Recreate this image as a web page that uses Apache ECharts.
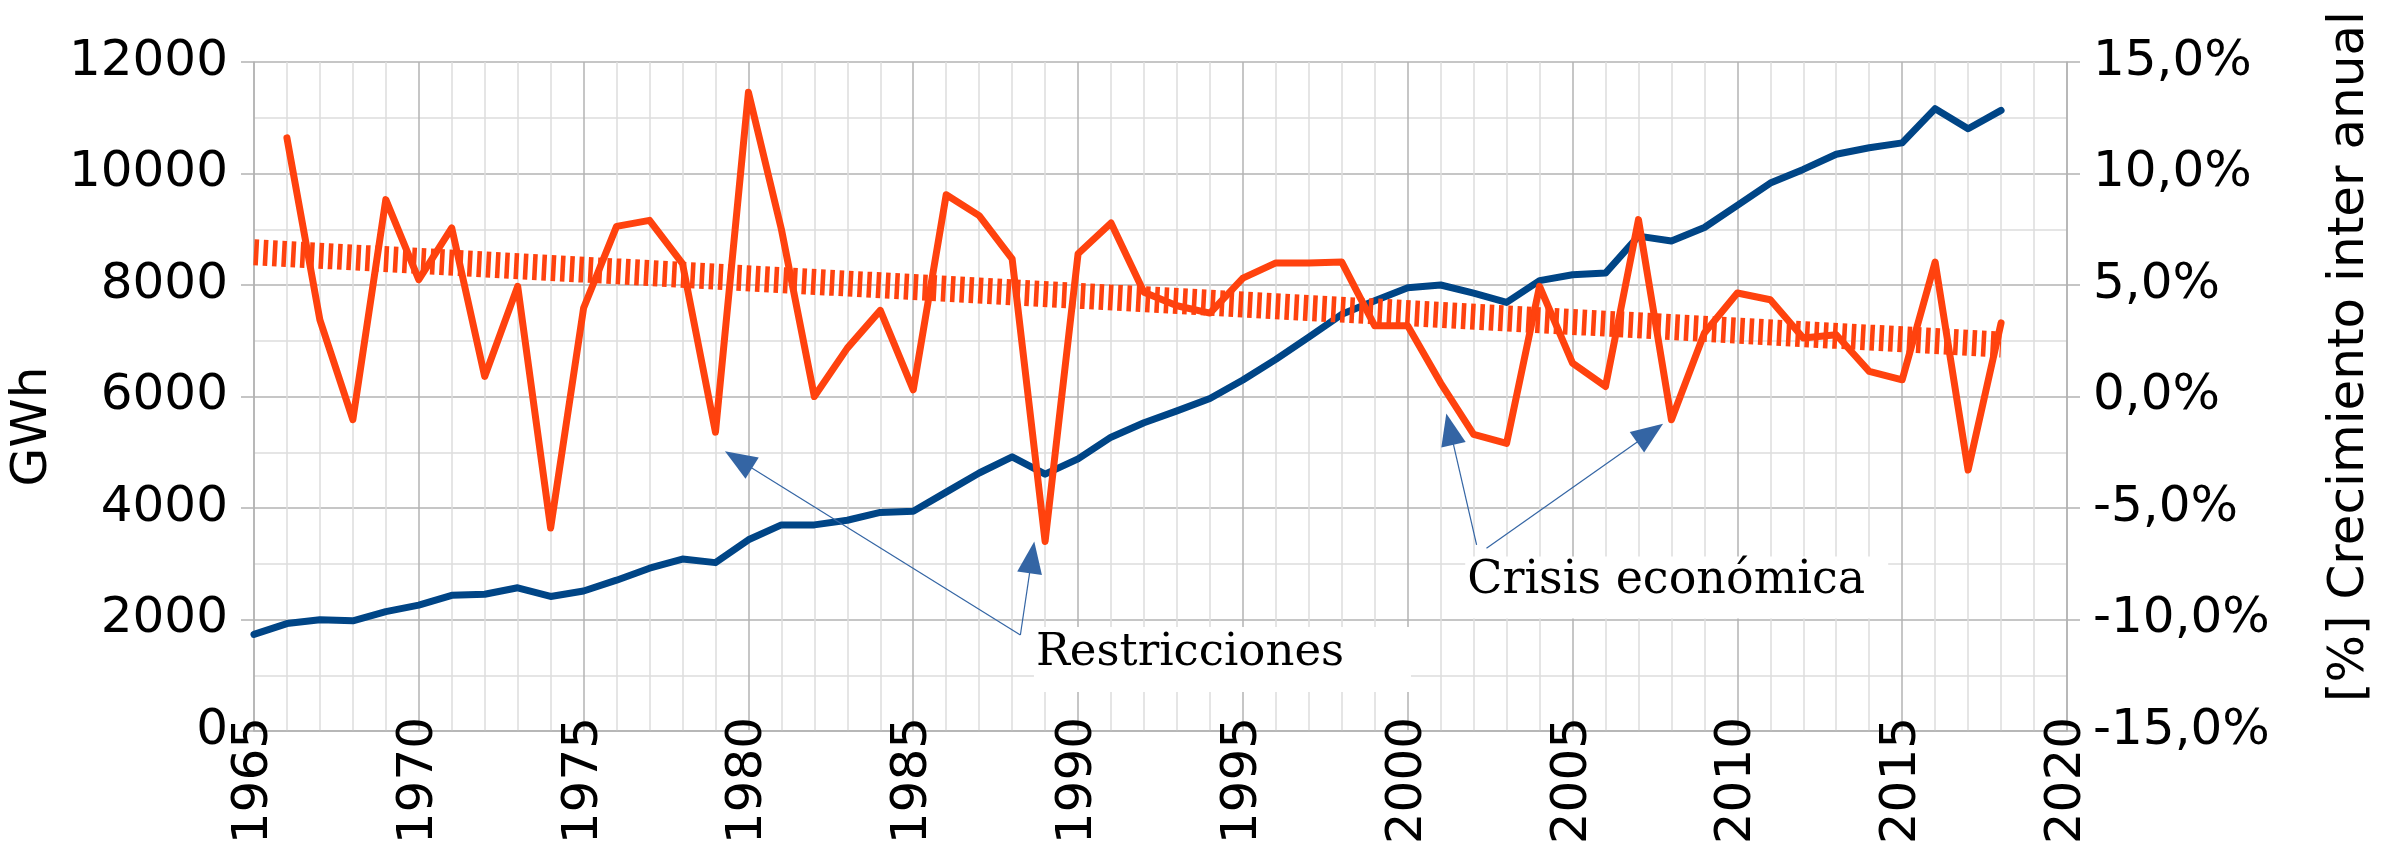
<!DOCTYPE html>
<html><head><meta charset="utf-8">
<script src="https://cdn.jsdelivr.net/npm/echarts@6/dist/echarts.min.js"></script>
<style>html,body{margin:0;padding:0;background:#fff}#c{width:2402px;height:849px}</style>
</head><body><div id="c"></div>
<script>
// ---- data ----
const years = [1965,1966,1967,1968,1969,1970,1971,1972,1973,1974,1975,1976,1977,1978,1979,
  1980,1981,1982,1983,1984,1985,1986,1987,1988,1989,1990,1991,1992,1993,1994,1995,1996,1997,
  1998,1999,2000,2001,2002,2003,2004,2005,2006,2007,2008,2009,2010,2011,2012,2013,2014,2015,
  2016,2017,2018];
const gwh = [1732,1927,1995,1976,2141,2258,2433,2452,2569,2413,2511,2705,2920,3085,3020,
  3430,3697,3697,3780,3920,3940,4285,4628,4918,4607,4880,5270,5530,5742,5965,6296,6666,7065,
  7474,7717,7951,8000,7854,7688,8078,8185,8214,8876,8788,9031,9430,9829,10073,10345,10462,10550,
  11163,10802,11133];
const growthYears = [1966,1967,1968,1969,1970,1971,1972,1973,1974,1975,1976,1977,1978,1979,
  1980,1981,1982,1983,1984,1985,1986,1987,1988,1989,1990,1991,1992,1993,1994,1995,1996,1997,
  1998,1999,2000,2001,2002,2003,2004,2005,2006,2007,2008,2009,2010,2011,2012,2013,2014,2015,
  2016,2017,2018];
const growth = [11.6,3.44,-1.04,8.83,5.24,7.56,0.9,4.94,-5.9,3.97,7.63,7.9,5.96,-1.6,
  13.64,7.5,0.0,2.17,3.86,0.3,9.05,8.11,6.17,-6.5,6.4,7.78,4.67,4.07,3.74,5.31,5.99,5.99,
  6.03,3.17,3.17,0.6,-1.7,-2.1,4.94,1.5,0.45,7.93,-1.04,2.85,4.64,4.34,2.62,2.77,1.13,0.75,
  6.03,-3.3,3.3];
const trendYears = [1965, 2018];
const trendValues = [6.47, 2.33];

// annotations (in data coordinates: year, GWh)
const annotationTexts = ['Restricciones', 'Crisis económica'];
const annotationAnchors = [[1994.38, 1283], [2008.16, 2574]];
const arrowFrom = [[1988.25, 1722], [1988.25, 1722], [2002.09, 3337], [2002.39, 3278]];
const arrowTo = [[1979.70, 4867], [1988.60, 3113], [2001.28, 5414], [2007.35, 5344]];

const xTicks = [1965,1970,1975,1980,1985,1990,1995,2000,2005,2010,2015,2020];

// ---- chart ----
const pair = (xs, ys) => xs.map((x, i) => [x, ys[i]]);
const SANS = 'DejaVu Sans';
const chart = echarts.init(document.getElementById('c'));
const gridMajor = '#b3b3b3', gridMinor = '#dddddd';

chart.setOption({
  animation: false,
  backgroundColor: '#ffffff',
  textStyle: { fontFamily: SANS },
  grid: { left: 252, right: 335, top: 62, bottom: 118, containLabel: false },
  xAxis: {
    type: 'value', min: xTicks[0], max: xTicks[xTicks.length - 1], interval: 5,
    axisLine: { show: true, onZero: false, lineStyle: { color: gridMajor, width: 1.5 } },
    axisTick: { show: false },
    axisLabel: { rotate: 90, margin: -14, fontSize: 50, fontFamily: SANS, color: '#000',
      formatter: v => String(v), showMinLabel: true, showMaxLabel: true },
    splitLine: { show: true, lineStyle: { color: gridMajor, width: 1.5 } },
    minorTick: { show: false, splitNumber: 5 },
    minorSplitLine: { show: true, lineStyle: { color: gridMinor, width: 1.5 } }
  },
  yAxis: [
    {
      type: 'value', min: 0, max: 12000, interval: 2000, position: 'left',
      name: 'GWh', nameLocation: 'middle', nameGap: 193, nameRotate: 90,
      nameTextStyle: { fontSize: 50, fontFamily: SANS, color: '#000', padding: [0, 60, 0, 0] },
      axisLine: { show: true, lineStyle: { color: gridMajor, width: 1.5 } },
      axisTick: { show: true, length: 13, lineStyle: { color: gridMajor, width: 1.5 } },
      axisLabel: { margin: 26, fontSize: 50, fontFamily: SANS, color: '#000',
        formatter: v => String(v) },
      splitLine: { show: true, lineStyle: { color: gridMajor, width: 1.5 } },
      minorTick: { show: false, splitNumber: 2 },
      minorSplitLine: { show: true, lineStyle: { color: gridMinor, width: 1.5 } }
    },
    {
      type: 'value', min: -15, max: 15, interval: 5, position: 'right',
      name: '[%] Crecimiento inter anual', nameLocation: 'middle', nameGap: 258, nameRotate: 90,
      nameTextStyle: { fontSize: 50, fontFamily: SANS, color: '#000', padding: [0, 0, 0, 80] },
      axisLine: { show: true, lineStyle: { color: gridMajor, width: 1.5 } },
      axisTick: { show: true, length: 13, lineStyle: { color: gridMajor, width: 1.5 } },
      axisLabel: { margin: 26, fontSize: 50, fontFamily: SANS, color: '#000',
        formatter: v => v.toFixed(1).replace('.', ',') + '%' },
      splitLine: { show: false }
    }
  ],
  series: [
    {
      name: 'GWh', type: 'line', yAxisIndex: 0, data: pair(years, gwh),
      symbol: 'none', silent: true, z: 3,
      lineStyle: { color: '#004586', width: 7, join: 'round', cap: 'round' },
      markLine: {
        silent: true, symbol: ['none', 'triangle'], symbolSize: [25, 32], precision: 4,
        label: { show: false }, emphasis: { disabled: true },
        lineStyle: { color: '#3465a4', width: 1.2, type: 'solid' },
        itemStyle: { color: '#3465a4' },
        data: arrowFrom.map((f, i) => [{ coord: f }, { coord: arrowTo[i] }])
      },
      markPoint: {
        silent: true, symbol: 'rect',
        emphasis: { disabled: true },
        itemStyle: { color: '#ffffff' },
        label: { show: true, position: 'insideLeft', distance: 2, offset: [0, -6],
          fontFamily: 'DejaVu Serif', fontSize: 45, color: '#000', formatter: p => p.name },
        data: [
          { name: annotationTexts[0], coord: annotationAnchors[0], symbolSize: [377, 65] },
          { name: annotationTexts[1], coord: annotationAnchors[1], symbolSize: [423, 62],
            label: { fontSize: 46 } }
        ]
      }
    },
    {
      name: 'Crecimiento', type: 'line', yAxisIndex: 1, data: pair(growthYears, growth),
      symbol: 'none', silent: true, z: 4,
      lineStyle: { color: '#ff420e', width: 7, join: 'round', cap: 'round' }
    },
    {
      name: 'Tendencia', type: 'line', yAxisIndex: 1, data: pair(trendYears, trendValues),
      symbol: 'none', silent: true, z: 5,
      lineStyle: { color: '#ff420e', width: 26, type: [4.6, 4.7], cap: 'butt' }
    }
  ]
});
</script></body></html>
